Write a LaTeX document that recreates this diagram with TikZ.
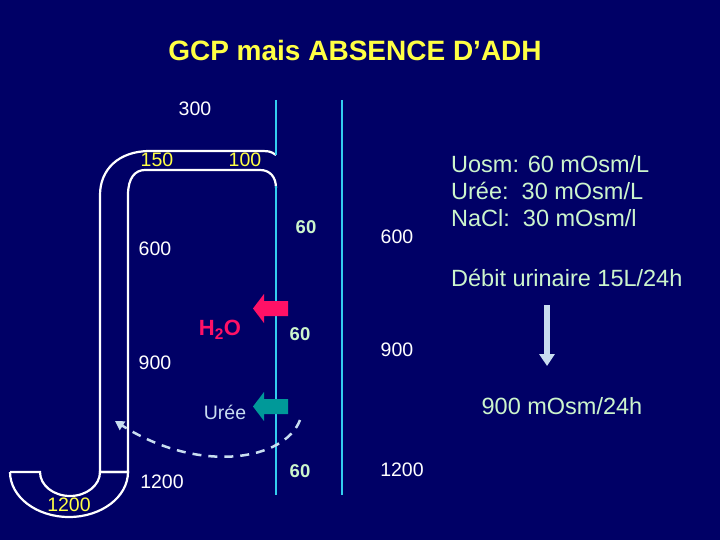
\documentclass[tikz,border=0pt]{standalone}
\usepackage{fontspec}
\setmainfont{Liberation Sans}
\usetikzlibrary{arrows.meta}
\definecolor{bg}{HTML}{000066}
\definecolor{cy}{HTML}{33CCEE}
\definecolor{yl}{HTML}{FFFF44}
\definecolor{gr}{HTML}{CCF5CC}
\definecolor{lb}{HTML}{C8DDF0}
\definecolor{mg}{HTML}{FF1166}
\definecolor{tl}{HTML}{009999}
\begin{document}
\begin{tikzpicture}[x=1pt,y=-1pt,
  wl/.style={draw=white,line width=2.2pt},
  cl/.style={draw=cy,line width=2.2pt},
  lbl/.style={font=\fontsize{19.5}{20}\selectfont,inner sep=0},
  wt/.style={lbl,text=white},
  yt/.style={lbl,text=yl},
  gt/.style={lbl,text=gr,font=\fontsize{18.5}{20}\selectfont\bfseries},
  rt/.style={inner sep=0,text=gr,font=\fontsize{23.5}{24}\selectfont,anchor=west}]
\fill[bg] (0,0) rectangle (720,540);
\useasboundingbox (0,0) rectangle (720,540);
\node[font=\fontsize{28}{30}\selectfont\bfseries,text=yl] (title) at (355,50) {GCP mais ABSENCE D’ADH};
% nephron
\draw[wl] (276,155) .. controls (270,151) .. (255,151) -- (150,151) .. controls (118,151) and (100,170) .. (100,195) -- (100,472) -- (128,472) -- (128,195) .. controls (128,178) and (135,170) .. (145,170) -- (260,170) .. controls (270,170) and (276,177) .. (276,188);
\draw[wl] (10,472) -- (40,472) arc[start angle=180,end angle=0,x radius=30,y radius=24] -- (128,472) arc[start angle=0,end angle=180,x radius=59,y radius=45];
\draw[cl] (276,100) -- (276,155);
\draw[cl] (276,186) -- (276,495);
\draw[cl] (342,100) -- (342,495);
% labels
\node[wt] (n300) at (195,109) {300};
\node[yt] (n150) at (157,160) {150};
\node[yt] (n100) at (245,160) {100};
\node[wt] (n600a) at (155,249) {600};
\node[wt] (n900a) at (155,363) {900};
\node[wt] (n1200a) at (162,482) {1200};
\node[yt] (n1200b) at (69,505) {1200};
\node[gt] (g1) at (306,227) {60};
\node[gt] (g2) at (300,334) {60};
\node[gt] (g3) at (300,471) {60};
\node[wt] (n600b) at (397,237) {600};
\node[wt] (n900b) at (397,350) {900};
\node[wt] (n1200c) at (402,470) {1200};
\fill[mg] (288,301) -- (264,301) -- (264,294) -- (253,308.5) -- (264,323) -- (264,316) -- (288,316) -- cycle;
\node[font=\fontsize{22}{24}\selectfont\bfseries,text=mg] (h2o) at (220,330) {H\textsubscript{2}O};
\fill[tl] (288,399) -- (264,399) -- (264,392) -- (253,406.5) -- (264,421) -- (264,414) -- (288,414) -- cycle;
\node[lbl,text=lb] (uree) at (225,412) {Urée};
\coordinate (ds) at (300,420);
\coordinate (de) at (115,421);
\draw[lb,line width=2.5pt,dash pattern=on 9pt off 7pt,-{Triangle[length=9pt,width=10pt]}] (ds) .. controls (285,460) and (200,475) .. (de);
% right text
\node[rt] (t1) at (451,164) {Uosm: 60 mOsm/L};
\node[rt] (t2) at (451,191) {Urée:\ \ 30 mOsm/L};
\node[rt] (t3) at (451,218) {NaCl:\ \ 30 mOsm/l};
\node[rt] (t4) at (451,278) {Débit urinaire 15L/24h};
\coordinate (a1) at (547,305);
\coordinate (a2) at (547,366);
\draw[lb,line width=6pt,-{Triangle[length=12pt,width=15pt]}] (a1) -- (a2);
\node[rt,anchor=center] (t5) at (562,406) {900 mOsm/24h};
\end{tikzpicture}
\end{document}
